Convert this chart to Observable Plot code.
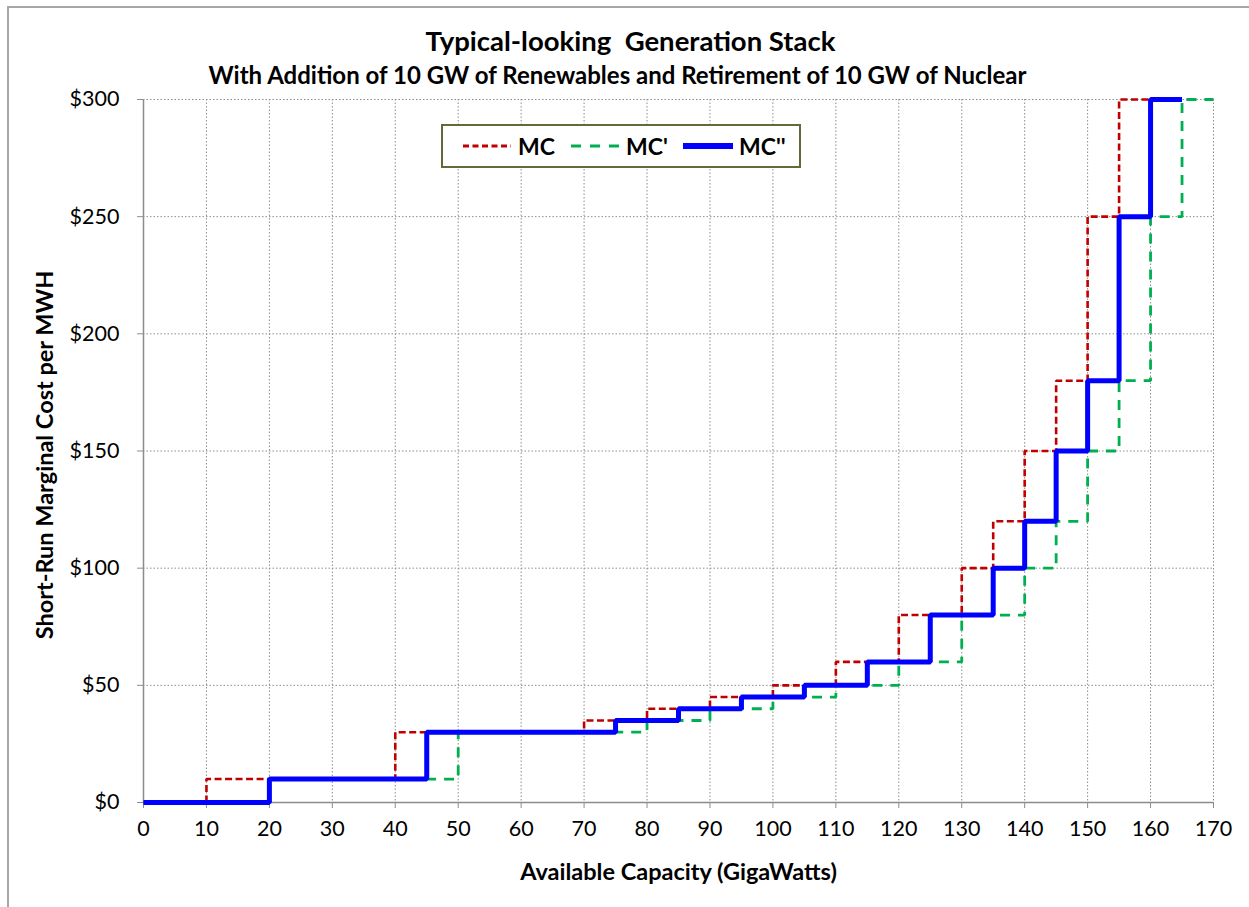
<!DOCTYPE html>
<html>
<head>
<meta charset="utf-8">
<script src="https://cdn.jsdelivr.net/npm/d3@7"></script>
<script src="https://cdn.jsdelivr.net/npm/@observablehq/plot@0.6"></script>
<style>
  body { margin: 0; background: #fff; font-family: Lato, "Open Sans", sans-serif; }
  #wrap { position: relative; width: 1249px; height: 907px; overflow: hidden; background: #fff; }
  #frame { position: absolute; left: 7px; top: 6px; width: 1260px; height: 920px;
           border-left: 2px solid #a6a6a6; border-top: 2px solid #a6a6a6; pointer-events: none; }
  #chart { position: absolute; left: 0; top: 0; }
  .title { position: absolute; left: 0; width: 1249px; text-align: center; font-weight: bold; color: #000;
           white-space: pre; line-height: 1.2; }
  #t1 { top: 24px; font-size: 27.5px; left: 6px; }
  #t2 { top: 61px; font-size: 24px; left: -7px; }
  #legend { position: absolute; left: 441px; top: 124px; width: 356px; height: 40px;
            border: 2px solid #5f6b3a; background: #fff; }
  .item { position: absolute; top: 0; height: 40px; display: flex; align-items: center;
          font-weight: bold; font-size: 23px; color: #000; }
  .item svg { margin-right: 6px; }
</style>
</head>
<body>
<div id="wrap">
  <div id="chart"></div>
  <div id="frame"></div>
  <div class="title" id="t1">Typical-looking  Generation Stack</div>
  <div class="title" id="t2">With Addition of 10 GW of Renewables and Retirement of 10 GW of Nuclear</div>
  <div id="legend"></div>
</div>
<script>
// ---- Data ----
// MC: original stack (step start capacity in GW, $/MWh)
const mcX  = [0, 10, 40, 70, 80, 90, 100, 110, 120, 130, 135, 140, 145, 150, 155, 160];
const mcY  = [0, 10, 30, 35, 40, 45, 50, 60, 80, 100, 120, 150, 180, 250, 300, 300];
// MC': with 10 GW renewables added
const mc1X = [0, 20, 50, 80, 90, 100, 110, 120, 130, 140, 145, 150, 155, 160, 165, 170];
const mc1Y = [0, 10, 30, 35, 40, 45, 50, 60, 80, 100, 120, 150, 180, 250, 300, 300];
// MC'': renewables added and 10 GW nuclear retired
const mc2X = [0, 20, 45, 75, 85, 95, 105, 115, 125, 135, 140, 145, 150, 155, 160, 165];
const mc2Y = [0, 10, 30, 35, 40, 45, 50, 60, 80, 100, 120, 150, 180, 250, 300, 300];

const seriesNames = ["MC", "MC'", "MC''"];
const seriesColors = ["#c00000", "#00b050", "#0000ff"];
const xTicks = [0, 10, 20, 30, 40, 50, 60, 70, 80, 90, 100, 110, 120, 130, 140, 150, 160, 170];
const yTicks = [0, 50, 100, 150, 200, 250, 300];
const xTitle = "Available Capacity (GigaWatts)";
const yTitle = "Short-Run Marginal Cost per MWH";

const toRows = (xs, ys) => xs.map((x, i) => ({x, y: ys[i]}));
const mc = toRows(mcX, mcY), mc1 = toRows(mc1X, mc1Y), mc2 = toRows(mc2X, mc2Y);

const styles = [
  {stroke: seriesColors[0], strokeWidth: 2.6, strokeDasharray: "7,3.5"},
  {stroke: seriesColors[1], strokeWidth: 2.8, strokeDasharray: "10,8"},
  {stroke: seriesColors[2], strokeWidth: 5, strokeDasharray: null}
];

const chart = Plot.plot({
  width: 1249,
  height: 907,
  marginLeft: 143,
  marginRight: 36,
  marginTop: 99,
  marginBottom: 105,
  style: {fontFamily: "Lato, 'Open Sans', sans-serif", fontSize: "21px", color: "#000", background: "transparent"},
  x: {domain: [0, 170]},
  y: {domain: [0, 300]},
  marks: [
    Plot.gridX(xTicks.slice(1), {stroke: "#8c8c8c", strokeOpacity: 1, strokeWidth: 1, strokeDasharray: "1.5,2"}),
    Plot.gridY(yTicks.slice(1), {stroke: "#8c8c8c", strokeOpacity: 1, strokeWidth: 1, strokeDasharray: "1.5,2"}),
    Plot.axisX({ticks: xTicks, tickSize: 6, tickPadding: 12, stroke: "#8c8c8c", fill: "#000", label: null, fontSize: 21.5}),
    Plot.axisY({ticks: yTicks, tickSize: 6, tickPadding: 18, stroke: "#8c8c8c", fill: "#000", label: null,
                tickFormat: d => "$" + d, fontSize: 21.5}),
    Plot.ruleX([0], {stroke: "#8c8c8c", strokeWidth: 1.5}),
    Plot.ruleY([0], {stroke: "#8c8c8c", strokeWidth: 1.5}),
    Plot.line(mc, {x: "x", y: "y", curve: "step-after", ...styles[0], strokeLinejoin: "miter", strokeLinecap: "butt"}),
    Plot.line(mc1, {x: "x", y: "y", curve: "step-after", ...styles[1], strokeLinejoin: "miter", strokeLinecap: "butt"}),
    Plot.line(mc2, {x: "x", y: "y", curve: "step-after", ...styles[2], strokeLinejoin: "miter", strokeLinecap: "butt"}),
    Plot.text([xTitle], {text: d => d, frameAnchor: "bottom", dy: 70, lineAnchor: "middle",
                         fontWeight: "bold", fontSize: 23.5}),
    Plot.text([yTitle], {text: d => d, frameAnchor: "left", dx: -98, dy: 4, rotate: -90, textAnchor: "middle",
                         lineAnchor: "middle", fontWeight: "bold", fontSize: 23.5})
  ]
});
document.getElementById("chart").appendChild(chart);

// Legend
const legend = document.getElementById("legend");
const itemLeft = [19, 127, 240];
seriesNames.forEach((name, i) => {
  const div = document.createElement("div");
  div.className = "item";
  div.style.left = itemLeft[i] + "px";
  const st = styles[i];
  div.innerHTML = `<svg width="50" height="10"><line x1="1" y1="5" x2="49" y2="5" stroke="${st.stroke}"
     stroke-width="${i === 2 ? 6 : 3}" ${st.strokeDasharray ? `stroke-dasharray="${i === 0 ? '6,3.5' : '10,9'}"` : ""}
     stroke-linecap="${i === 2 ? 'round' : 'butt'}"/></svg><span>${name}</span>`;
  legend.appendChild(div);
});
</script>
</body>
</html>
